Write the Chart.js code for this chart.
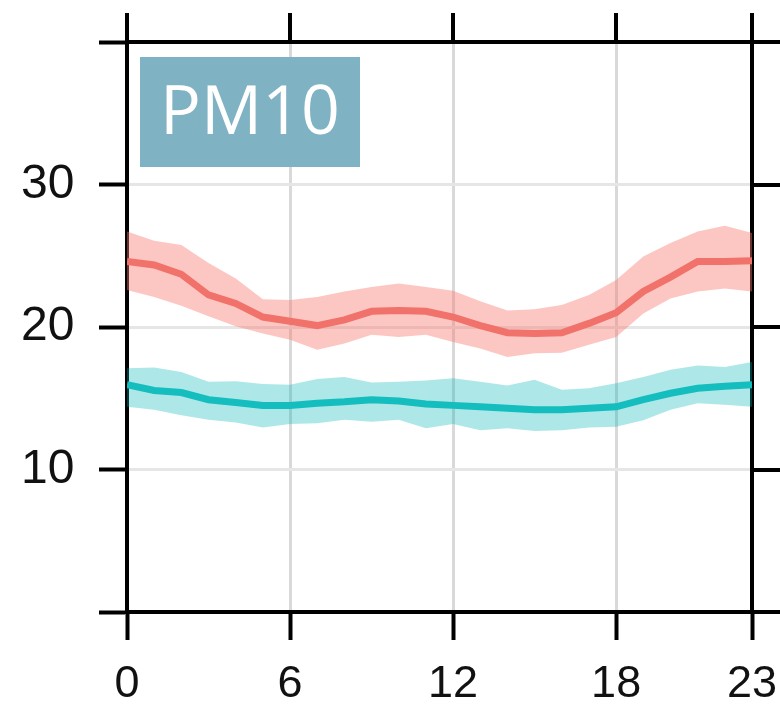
<!DOCTYPE html>
<html>
<head>
<meta charset="utf-8">
<script src="https://cdn.jsdelivr.net/npm/chart.js@4.4.1/dist/chart.umd.min.js"></script>
<style>
  html, body { margin: 0; padding: 0; background: #ffffff; }
  canvas { display: block; }
</style>
</head>
<body>
<canvas id="chart" width="780" height="705"></canvas>
<script>
// Hour of day
const hours = [0, 1, 2, 3, 4, 5, 6, 7, 8, 9, 10, 11, 12, 13, 14, 15, 16, 17, 18, 19, 20, 21, 22, 23];

// Axis ticks
const xTickValues = [0, 6, 12, 18, 23];
const xTickLabels = ['0', '6', '12', '18', '23'];
const yTickValues = [0, 10, 20, 30, 40];
const yTickLabels = ['', '10', '20', '30', ''];

// Pollutant panel title
const panelTitle = 'PM10';

// Upper series (red): mean and confidence band
const redMean  = [24.6, 24.35, 23.7, 22.25, 21.65, 20.7, 20.4, 20.1, 20.5, 21.1, 21.15, 21.1, 20.7, 20.1, 19.6, 19.55, 19.6, 20.25, 21.0, 22.5, 23.5, 24.6, 24.6, 24.65];
const redUpper = [26.7, 26.05, 25.75, 24.5, 23.4, 21.95, 21.9, 22.1, 22.5, 22.8, 23.05, 22.8, 22.55, 21.8, 21.15, 21.25, 21.55, 22.25, 23.3, 24.95, 25.9, 26.7, 27.1, 26.6];
const redLower = [22.6, 22.1, 21.5, 20.75, 20.05, 19.55, 19.1, 18.4, 18.85, 19.45, 19.3, 19.45, 18.95, 18.5, 17.9, 18.15, 18.2, 18.75, 19.3, 20.95, 22.0, 22.5, 22.7, 22.5];

// Lower series (teal): mean and confidence band
const tealMean  = [15.95, 15.55, 15.4, 14.9, 14.7, 14.5, 14.5, 14.65, 14.75, 14.9, 14.8, 14.6, 14.5, 14.4, 14.3, 14.2, 14.2, 14.3, 14.4, 14.9, 15.35, 15.7, 15.85, 15.95];
const tealUpper = [17.1, 17.15, 16.85, 16.15, 16.2, 16.0, 15.95, 16.35, 16.5, 16.1, 16.15, 16.25, 16.4, 16.15, 15.9, 16.3, 15.6, 15.7, 16.05, 16.5, 17.0, 17.3, 17.2, 17.55];
const tealLower = [14.4, 14.2, 13.8, 13.5, 13.3, 12.95, 13.2, 13.25, 13.5, 13.35, 13.5, 12.9, 13.2, 12.75, 12.9, 12.7, 12.75, 12.95, 13.0, 13.45, 14.2, 14.65, 14.55, 14.4];

const RED_LINE = '#F1726A';
const RED_BAND = 'rgba(248, 118, 109, 0.42)';
const TEAL_LINE = '#14BDBE';
const TEAL_BAND = 'rgba(0, 180, 185, 0.32)';
const GRID_V = '#d9d9d9';
const GRID_H = '#e6e6e6';
const AXIS = '#000000';
const AXIS_W = 4;
const LABEL_FONT = 'Liberation Sans';

const toPoints = arr => hours.map((h, i) => ({ x: h, y: arr[i] }));

function band(values, fillTarget, color) {
  return {
    data: toPoints(values),
    borderColor: 'transparent',
    borderWidth: 0,
    pointRadius: 0,
    fill: fillTarget,
    backgroundColor: color,
    order: 5
  };
}

function meanLine(values, color, order) {
  return {
    data: toPoints(values),
    borderColor: color,
    borderWidth: 7,
    pointRadius: 0,
    fill: false,
    tension: 0,
    order: order
  };
}

const interiorGrid = (edges, color) => ctx =>
  (ctx.tick && edges.includes(ctx.tick.value)) ? 'rgba(0,0,0,0)' : color;

// Title box in the upper-left corner of the plotting area
const titleBox = {
  id: 'titleBox',
  afterDatasetsDraw(chart) {
    const { ctx, chartArea } = chart;
    const x = chartArea.left + 13, y = chartArea.top + 15, w = 220, h = 110;
    ctx.save();
    ctx.fillStyle = '#7FB2C3';
    ctx.fillRect(x, y, w, h);
    ctx.fillStyle = '#ffffff';
    ctx.font = '68px "Open Sans"';
    ctx.textAlign = 'center';
    ctx.textBaseline = 'middle';
    ctx.fillText(panelTitle, x + w / 2, y + h / 2 + 3);
    ctx.restore();
  }
};

new Chart(document.getElementById('chart'), {
  type: 'line',
  data: {
    datasets: [
      band(redLower, false, RED_BAND),
      band(redUpper, '-1', RED_BAND),
      band(tealLower, false, TEAL_BAND),
      band(tealUpper, '-1', TEAL_BAND),
      meanLine(redMean, RED_LINE, 0),
      meanLine(tealMean, TEAL_LINE, 1)
    ]
  },
  options: {
    responsive: false,
    animation: false,
    devicePixelRatio: 1,
    layout: { padding: { left: 21, top: 0, right: 0, bottom: 0 } },
    plugins: { legend: { display: false }, tooltip: { enabled: false } },
    scales: {
      x: {
        type: 'linear', position: 'bottom', min: 0, max: 23,
        afterBuildTicks: s => { s.ticks = xTickValues.map(v => ({ value: v })); },
        afterFit: s => { s.height = 93; },
        grid: { color: interiorGrid([0, 23], GRID_V), lineWidth: 3, tickLength: 28, tickColor: AXIS, tickWidth: AXIS_W },
        border: { color: AXIS, width: AXIS_W },
        ticks: {
          autoSkip: false, maxRotation: 0, padding: 0, color: '#111111',
          font: { family: LABEL_FONT, size: 45, lineHeight: 2.0 },
          callback: (v, i) => xTickLabels[i]
        }
      },
      xTop: {
        type: 'linear', position: 'top', min: 0, max: 23,
        afterBuildTicks: s => { s.ticks = xTickValues.map(v => ({ value: v })); },
        afterFit: s => { s.height = 42; },
        grid: { drawOnChartArea: false, tickLength: 29, tickColor: AXIS, tickWidth: AXIS_W, lineWidth: AXIS_W },
        border: { color: AXIS, width: AXIS_W },
        ticks: { display: false }
      },
      y: {
        type: 'linear', position: 'left', min: 0, max: 40,
        afterBuildTicks: s => { s.ticks = yTickValues.map(v => ({ value: v })); },
        afterFit: s => { s.width = 106; },
        grid: { color: interiorGrid([0, 40], GRID_H), lineWidth: 3, tickLength: 28, tickColor: AXIS, tickWidth: AXIS_W },
        border: { color: AXIS, width: AXIS_W },
        ticks: {
          autoSkip: false, padding: 0, crossAlign: 'far', color: '#111111',
          font: { family: LABEL_FONT, size: 48 },
          callback: (v, i) => yTickLabels[i]
        }
      },
      yRight: {
        type: 'linear', position: 'right', min: 0, max: 40,
        afterBuildTicks: s => { s.ticks = yTickValues.map(v => ({ value: v })); },
        afterFit: s => { s.width = 28; },
        grid: { drawOnChartArea: false, tickLength: 28, tickColor: AXIS, tickWidth: AXIS_W, lineWidth: AXIS_W },
        border: { color: AXIS, width: AXIS_W },
        ticks: { display: false }
      }
    }
  },
  plugins: [titleBox]
});
</script>
</body>
</html>
